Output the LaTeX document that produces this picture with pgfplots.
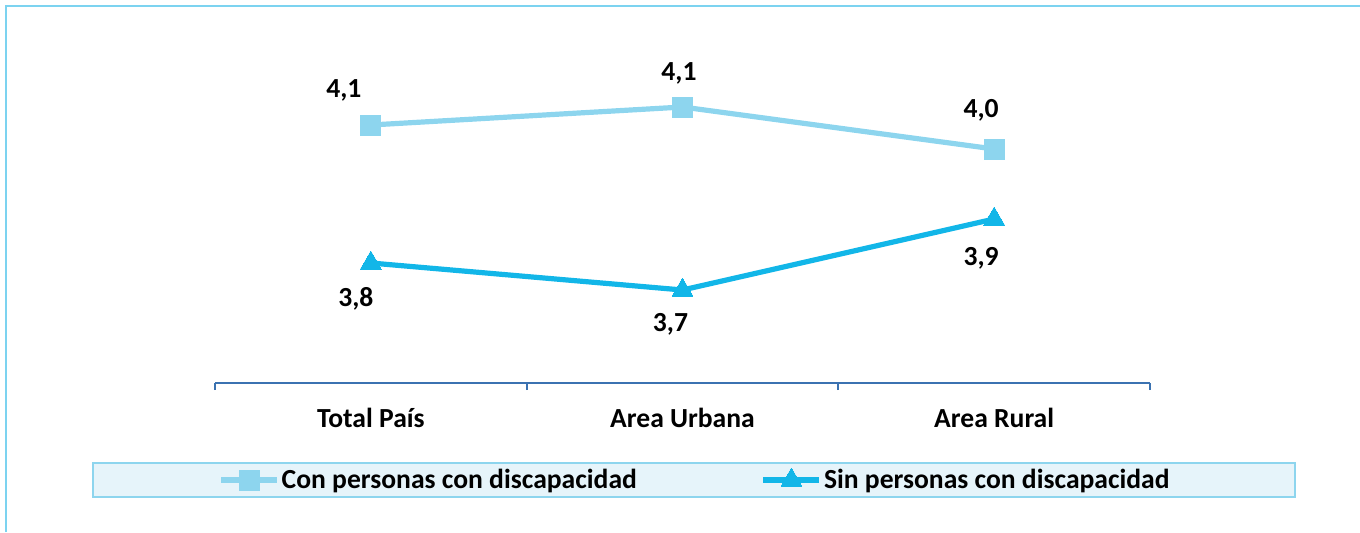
\documentclass[border=0pt]{standalone}
\usepackage{pgfplots}
\pgfplotsset{compat=1.18}
\usepackage{pgfplotstable}
\usepackage{fontspec}
\setmainfont{Carlito}
\definecolor{conc}{HTML}{8DD5EE}
\definecolor{sinc}{HTML}{12B6E8}
\definecolor{axc}{HTML}{3B72B1}
\definecolor{legfill}{HTML}{E6F4FA}
\definecolor{legline}{HTML}{8DD5EE}
\definecolor{framec}{HTML}{7CD3F0}
\pgfplotstableread{
x y label dx dy
0.5 4.058 {4,1} -13.5 17.5
1.5 4.094 {4,1} -1.75 17
2.5 4.010 {4,0} -6.5 19.3
}\condata
\pgfplotstableread{
x y label dx dy
0.5 3.782 {3,8} -7.5 -18
1.5 3.728 {3,7} -6 -17
2.5 3.870 {3,9} -6.5 -19.5
}\sindata
\begin{document}
\begin{tikzpicture}[x=0.5pt,y=0.5pt]
\useasboundingbox (0,0) rectangle (1360,532);
\draw[framec, line width=1.1pt] (6,0) -- (6,526) -- (1360,526);
\draw[legline, line width=0.9pt, fill=legfill] (93,35) rectangle (1295,69);
\begin{axis}[
  at={(107.5pt,74.5pt)}, anchor=south west,
  scale only axis, width=467.5pt, height=171.5pt,
  xmin=0, xmax=3, ymin=3.542, ymax=4.228,
  axis x line*=bottom, axis y line=none,
  x axis line style={axc, line width=1pt},
  xtick={0.5,1.5,2.5},
  xticklabels={Total País, Area Urbana, Area Rural},
  major tick length=0pt,
  tick align=outside,
  extra x ticks={0,1,2,3},
  extra x tick labels={},
  extra x tick style={major tick length=3.5pt, tick style={axc, line width=1pt}},
  xticklabel style={font=\fontsize{13.8}{16}\selectfont\bfseries, anchor=center, yshift=-17.5pt},
  clip=false,
  nodes near coords,
  point meta=explicit symbolic,
  visualization depends on={\thisrow{dx} \as \dx},
  visualization depends on={\thisrow{dy} \as \dy},
  nodes near coords style={font=\fontsize{13.8}{16}\selectfont\bfseries, text=black, anchor=center, xshift=\dx pt, yshift=\dy pt},
  legend columns=2,
  legend style={at={(0.5134,-0.2828)}, anchor=center, draw=none, fill=none,
    font=\fontsize{13.8}{16}\selectfont\bfseries,
    nodes={inner sep=1pt},
    /tikz/every even column/.append style={column sep=61pt}},
  legend image code/.code={\draw[#1, mark repeat=2, mark phase=2] plot coordinates {(0pt,0pt) (14pt,0pt) (28pt,0pt)};},
]
\addplot[conc, line width=2.6pt, mark=square*, mark size=5pt, mark options={solid, line width=0pt}]
  table[x=x, y=y, meta=label] {\condata};
\addlegendentry{Con personas con discapacidad}
\addplot[sinc, line width=2.6pt, mark=triangle*, mark size=6pt, mark options={solid, line width=0pt}]
  table[x=x, y=y, meta=label] {\sindata};
\addlegendentry{Sin personas con discapacidad}
\end{axis}
\end{tikzpicture}
\end{document}
